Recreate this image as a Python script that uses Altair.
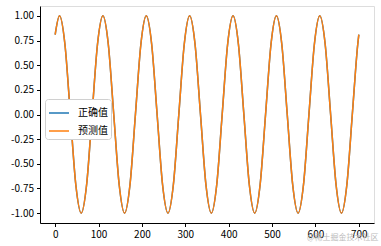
import altair as alt
import pandas as pd

x_vals = [0, 10, 22.5, 35, 47.5, 60, 72.5, 85, 97.5,
          110, 122.5, 135, 147.5, 160, 172.5, 185, 197.5,
          210, 222.5, 235, 247.5, 260, 272.5, 285, 297.5,
          310, 322.5, 335, 347.5, 360, 372.5, 385, 397.5,
          410, 422.5, 435, 447.5, 460, 472.5, 485, 497.5,
          510, 522.5, 535, 547.5, 560, 572.5, 585, 597.5,
          610, 622.5, 635, 647.5, 660, 672.5, 685, 697.5, 700]
true_vals = [0.81, 1.0, 0.71, 0.0, -0.71, -1.0, -0.71, 0.0, 0.71,
             1.0, 0.71, 0.0, -0.71, -1.0, -0.71, 0.0, 0.71,
             1.0, 0.71, 0.0, -0.71, -1.0, -0.71, 0.0, 0.71,
             1.0, 0.71, 0.0, -0.71, -1.0, -0.71, 0.0, 0.71,
             1.0, 0.71, 0.0, -0.71, -1.0, -0.71, 0.0, 0.71,
             1.0, 0.71, 0.0, -0.71, -1.0, -0.71, 0.0, 0.71,
             1.0, 0.71, 0.0, -0.71, -1.0, -0.71, 0.0, 0.71, 0.81]
pred_vals = [0.81, 1.0, 0.71, 0.0, -0.71, -1.0, -0.71, 0.0, 0.71,
             1.0, 0.71, 0.0, -0.71, -1.0, -0.71, 0.0, 0.71,
             1.0, 0.71, 0.0, -0.71, -1.0, -0.71, 0.0, 0.71,
             1.0, 0.71, 0.0, -0.71, -1.0, -0.71, 0.0, 0.71,
             1.0, 0.71, 0.0, -0.71, -1.0, -0.71, 0.0, 0.71,
             1.0, 0.71, 0.0, -0.71, -1.0, -0.71, 0.0, 0.71,
             1.0, 0.71, 0.0, -0.71, -1.0, -0.71, 0.0, 0.71, 0.81]
series_names = ["正确值", "预测值"]
series_colors = ["#1f77b4", "#ff7f0e"]
x_ticks = [0, 100, 200, 300, 400, 500, 600, 700]
y_ticks = [-1.0, -0.75, -0.5, -0.25, 0.0, 0.25, 0.5, 0.75, 1.0]

df_true = pd.DataFrame({"x": x_vals, "y": true_vals, "s": series_names[0]})
df_pred = pd.DataFrame({"x": x_vals, "y": pred_vals, "s": series_names[1]})

FONT = "Noto Sans CJK SC"

x_enc = alt.X("x:Q", scale=alt.Scale(domain=[-35, 735], nice=False, zero=False),
              axis=alt.Axis(values=x_ticks, title=None, grid=False, format="d",
                            tickSize=3.5, tickColor="black", domainColor="black",
                            labelColor="black", labelFontSize=10, labelFont=FONT,
                            labelPadding=3))
y_enc = alt.Y("y:Q", scale=alt.Scale(domain=[-1.1, 1.1], nice=False, zero=False),
              axis=alt.Axis(values=y_ticks, title=None, grid=False,
                            labelExpr="replace(format(datum.value, '.2f'), '\u2212', '-')",
                            tickSize=3.5, tickColor="black", domainColor="black",
                            labelColor="black", labelFontSize=10, labelFont=FONT,
                            labelPadding=3))
color_enc = alt.Color("s:N",
                      scale=alt.Scale(domain=series_names, range=series_colors),
                      legend=alt.Legend(title=None, orient="none", legendX=5, legendY=93,
                                        symbolType="stroke", symbolSize=400,
                                        symbolStrokeWidth=1.5, labelFontSize=10,
                                        labelFont=FONT, labelColor="black",
                                        labelOffset=8, rowPadding=2,
                                        padding=3, strokeColor="#d0d0d0",
                                        fillColor="white", cornerRadius=3))

line_true = alt.Chart(df_true).mark_line(strokeWidth=1.5, interpolate="monotone").encode(
    x=x_enc, y=y_enc, color=color_enc)
line_pred = alt.Chart(df_pred).mark_line(strokeWidth=1.5, interpolate="monotone").encode(
    x=x_enc, y=y_enc, color=color_enc)

watermark = alt.Chart(pd.DataFrame({"t": ["@稀土掘金技术社区"]})).mark_text(
    align="left", baseline="middle", fontSize=8, font=FONT, color="#bbbbbb",
    clip=False).encode(x=alt.value(267), y=alt.value(232), text="t:N")

chart = alt.layer(line_true, line_pred, watermark).properties(
    width=334, height=217,
    autosize=alt.AutoSizeParams(type="none"),
    padding={"left": 40, "top": 6, "right": 7, "bottom": 23},
).configure_view(stroke="black", strokeWidth=1).configure(background="white")

chart.save("out.html", embed_options={"renderer": "svg", "actions": False})
